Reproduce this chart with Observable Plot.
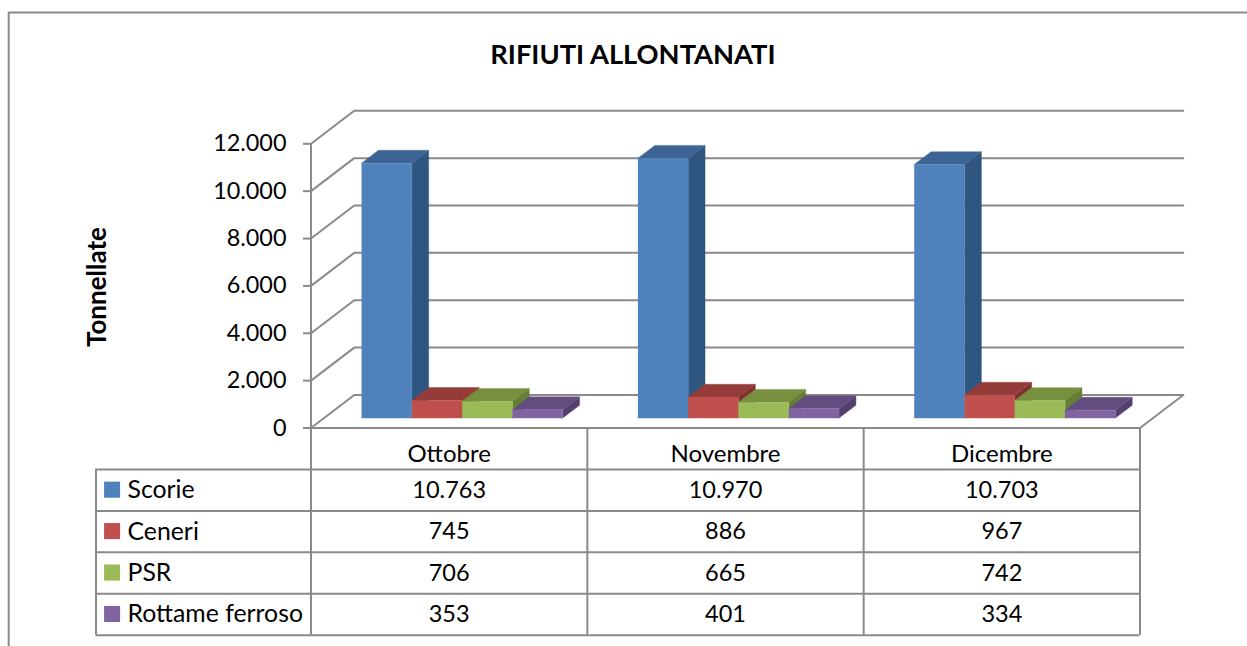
<!DOCTYPE html>
<html>
<head>
<meta charset="utf-8">
<script src="https://cdn.jsdelivr.net/npm/d3@7"></script>
<script src="https://cdn.jsdelivr.net/npm/@observablehq/plot@0.6"></script>
<style>
html,body{margin:0;padding:0;background:#fff;overflow:hidden}
svg{display:block;max-width:none}
</style>
</head>
<body>
<div id="chart"></div>
<script>
const title = "RIFIUTI ALLONTANATI";
const yTitle = "Tonnellate";
const months = ["Ottobre", "Novembre", "Dicembre"];
const seriesNames = ["Scorie", "Ceneri", "PSR", "Rottame ferroso"];
const scorie = [10763, 10970, 10703];
const ceneri = [745, 886, 967];
const psr = [706, 665, 742];
const rottame = [353, 401, 334];
const seriesValues = [scorie, ceneri, psr, rottame];
const yTicks = [0, 2000, 4000, 6000, 8000, 10000, 12000];
const frontColors = ["#4f81bd", "#c0504d", "#9bbb59", "#8064a2"];
const topColors = ["#3c6494", "#943c3a", "#76903f", "#634d80"];
const sideColors = ["#2f5680", "#7f3230", "#667f36", "#54406f"];
const gridColor = "#8a8a8a";
const fontFamily = "Lato, Carlito, sans-serif";

const fmt = d => d3.format(",")(d).replace(/,/g, ".");

// 3D projection inside the scales' units: one x unit is a month, depth 1 is the full floor
const depthX = 0.1565, depthY = 1395;
const proj = (x, y, d) => ({x: x + d * depthX, y: y + d * depthY});
const barFront = 0.30, barBack = 0.69, barStart = 0.136, barWidth = 0.182;

const faces = [[], [], []].map(() => seriesNames.map(() => []));
seriesValues.forEach((vals, s) => vals.forEach((v, m) => {
  const x0 = m + barStart + s * barWidth, x1 = x0 + barWidth;
  const id = s + "-" + m;
  const poly = (f, pts) => pts.forEach(p => faces[f][s].push({...proj(p[0], p[1], p[2]), id}));
  poly(0, [[x1, 0, barFront], [x1, 0, barBack], [x1, v, barBack], [x1, v, barFront]]);
  poly(1, [[x0, v, barFront], [x0, v, barBack], [x1, v, barBack], [x1, v, barFront]]);
  poly(2, [[x0, 0, barFront], [x1, 0, barFront], [x1, v, barFront], [x0, v, barFront]]);
}));

const barMarks = [];
seriesNames.forEach((_, s) => {
  [sideColors, topColors, frontColors].forEach((cols, f) => {
    barMarks.push(Plot.line(faces[f][s], {x: "x", y: "y", z: "id", fill: cols[s], stroke: cols[s], strokeWidth: 0.4}));
  });
});

// back wall, side wall and floor
const wall = [];
yTicks.forEach(t => {
  const a = proj(0, t, 0), b = proj(0, t, 1), c = proj(3, t, 1);
  wall.push({...a, id: t}, {...b, id: t}, {...c, id: t});
});
const floorEdge = [proj(0, 0, 0), proj(3, 0, 0), proj(3, 0, 1)];

// table layout, in the scales' units
const rowH = 1750, tableLeft = -0.778;
const rowLines = d3.range(0, 6).map(i => -i * rowH);
const colLines = [0, 1, 2, 3];
const rowMid = i => -(i + 1.5) * rowH;
const swatchX1 = -0.747, swatchX2 = -0.689, swatchH = 340;
const cells = seriesNames.flatMap((_, s) => months.map((_, m) => ({x: m + 0.5, y: rowMid(s), t: fmt(seriesValues[s][m])})));

const chart = Plot.plot({
  width: 1247, height: 646,
  marginLeft: 310.5, marginRight: 107.5, marginTop: 143.3, marginBottom: 218.5,
  style: {fontFamily, background: "#fff", color: "#000"},
  x: {type: "linear", domain: [0, 3], axis: null},
  y: {domain: [0, 12000]},
  marks: [
    // outer chart border (top and left only, the picture is cropped on the others)
    Plot.line([{x: -1.094, y: -9220}, {x: -1.094, y: 17540}, {x: 3.4, y: 17540}], {x: "x", y: "y", stroke: gridColor, strokeWidth: 2}),
    Plot.line(wall, {x: "x", y: "y", z: "id", stroke: gridColor, strokeWidth: 2}),
    Plot.line(floorEdge, {x: "x", y: "y", stroke: gridColor, strokeWidth: 2}),
    ...barMarks,
    // table
    Plot.ruleY(rowLines.slice(1), {y: d => d, x1: tableLeft, x2: 3, stroke: gridColor, strokeWidth: 2}),
    Plot.ruleY([0], {y: d => d, x1: 0, x2: 3, stroke: gridColor, strokeWidth: 2}),
    Plot.ruleX(colLines, {x: d => d, y1: -5 * rowH, y2: 0, stroke: gridColor, strokeWidth: 2}),
    Plot.ruleX([0], {x: d => d, y1: 0, y2: 12000, stroke: gridColor, strokeWidth: 2}),
    Plot.ruleX([tableLeft], {x: d => d, y1: -5 * rowH, y2: -rowH, stroke: gridColor, strokeWidth: 2}),
    Plot.axisY({ticks: yTicks, tickFormat: fmt, tickSize: 7.5, tickPadding: 17, fontSize: 23.4, stroke: gridColor, strokeWidth: 2, strokeOpacity: 1, label: null, marginLeft: 310}),
    Plot.text([title], {x: 1.165, y: 15730, text: d => d, fontSize: 27.3, fontWeight: 700, fill: "#000"}),
    Plot.text([yTitle], {x: -0.773, y: 5950, text: d => d, rotate: -90, fontSize: 26, fontWeight: 700, fill: "#000"}),
    Plot.text(months, {x: (d, i) => i + 0.5, y: -0.63 * rowH, text: d => d, fontSize: 24, fill: "#000"}),
    Plot.text(cells, {x: "x", y: "y", text: "t", fontSize: 23.5, fill: "#000"}),
    Plot.rect(seriesNames, {x1: swatchX1, x2: swatchX2, y1: (d, i) => rowMid(i) - swatchH, y2: (d, i) => rowMid(i) + swatchH, fill: (d, i) => frontColors[i]}),
    Plot.text(seriesNames, {x: -0.664, y: (d, i) => rowMid(i), text: d => d, textAnchor: "start", fontSize: 24.8, fill: "#000"})
  ]
});
document.getElementById("chart").append(chart);
</script>
</body>
</html>
